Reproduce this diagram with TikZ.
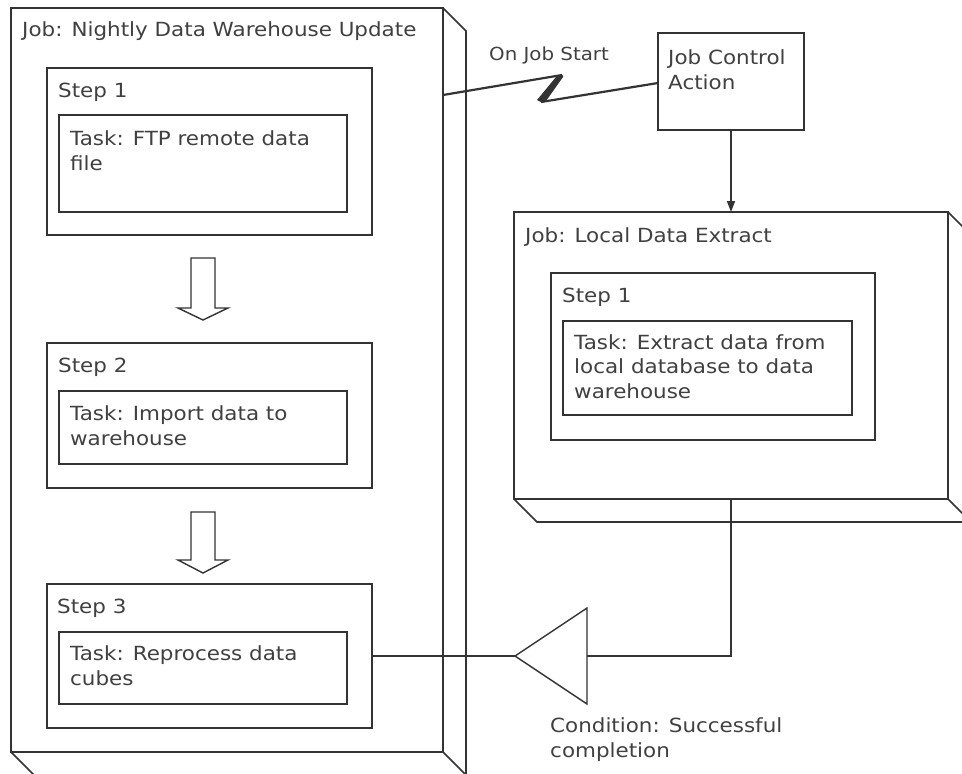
\documentclass[tikz,border=0pt]{standalone}
\usepackage{fontspec}
\newfontfamily\df[FakeStretch=1.1]{DejaVu Sans}
\usetikzlibrary{arrows.meta}
\definecolor{ln}{HTML}{333333}
\definecolor{tx}{HTML}{404040}
\begin{document}
\begin{tikzpicture}[x=1pt,y=-1pt,
  box/.style={draw=ln, line width=1.6pt, fill=white, inner sep=0pt, outer sep=0pt, anchor=north west},
  lbl/.style={text=tx, font=\df\fontsize{19.5}{24.5}\selectfont, inner sep=0pt, anchor=base west, align=left},
  smlbl/.style={lbl, font=\df\fontsize{18}{22}\selectfont},
  wire/.style={draw=ln, line width=1.6pt},
  thin/.style={draw=ln, line width=1.4pt},
  hollow/.style={draw=ln, line width=1.4pt, fill=white, line join=miter}]
\useasboundingbox (0,0) rectangle (962,774);
\clip (0,0) rectangle (962,774);

% ---- Job: Nightly Data Warehouse Update (3D box)
\node[box, minimum width=432pt, minimum height=744pt] (job) at (11,8) {};
\draw[wire, line join=miter] (job.north east) -- ++(23,23) -- ++(0,744) -- ++(-432,0) -- (job.south west);
\draw[wire] (job.south east) -- ++(23,23);
\node[lbl] (jobt) at (22,36) {Job: Nightly Data Warehouse Update};

% Step 1
\node[box, minimum width=325pt, minimum height=167pt] (s1) at (47,68) {};
\node[lbl] (s1t) at (58,97) {Step 1};
\node[box, minimum width=288pt, minimum height=97pt] (t1) at (59,115) {};
\node[lbl] (t1t) at (70,170) {Task: FTP remote data\\file};

% Step 2
\node[box, minimum width=325pt, minimum height=145pt] (s2) at (47,343) {};
\node[lbl] (s2t) at (58,372) {Step 2};
\node[box, minimum width=288pt, minimum height=73pt] (t2) at (59,391) {};
\node[lbl] (t2t) at (70,445) {Task: Import data to\\warehouse};

% Step 3
\node[box, minimum width=325pt, minimum height=144pt] (s3) at (47,584) {};
\node[lbl] (s3t) at (57,613) {Step 3};
\node[box, minimum width=288pt, minimum height=72pt] (t3) at (59,632) {};
\node[lbl] (t3t) at (70,685) {Task: Reprocess data\\cubes};

% hollow step arrows
\draw[hollow] (191,258) -- (215,258) -- (215,308) -- (228,308) -- (203,320) -- (178,308) -- (191,308) -- cycle;
\draw[hollow] (191,512) -- (215,512) -- (215,560) -- (228,560) -- (203,573) -- (178,560) -- (191,560) -- cycle;

% ---- Job Control Action
\node[box, minimum width=146pt, minimum height=97pt] (jca) at (658,33) {};
\node[lbl] (jcat) at (668,89) {Job Control\\Action};

% ---- Job: Local Data Extract (3D box)
\node[box, minimum width=434pt, minimum height=287pt] (ljob) at (514,212) {};
\draw[wire, line join=miter] (ljob.north east) -- ++(23,23) -- ++(0,287) -- ++(-434,0) -- (ljob.south west);
\draw[wire] (ljob.south east) -- ++(23,23);
\node[lbl] (ljobt) at (525,242) {Job: Local Data Extract};
\node[box, minimum width=324pt, minimum height=167pt] (ls1) at (551,273) {};
\node[lbl] (ls1t) at (562,302) {Step 1};
\node[box, minimum width=289pt, minimum height=94pt] (lt1) at (563,321) {};
\node[lbl] (lt1t) at (574,398) {Task: Extract data from\\local database to data\\warehouse};

% ---- On Job Start lightning connector
\coordinate (ls) at (job.north east |- 0,95);
\coordinate (lp1) at (562,75);
\coordinate (lp2) at (541,102);
\coordinate (le) at (jca.west |- 0,83);
\draw[draw=ln, line width=2.2pt, line join=miter] (ls) -- (lp1);
\draw[draw=ln, line width=2.2pt, line join=miter] (lp2) -- (le);
\fill[ln] (lp1) -- (563,77) -- (546,101) -- (lp2) -- (537,100) -- (556,77) -- cycle;
\draw[draw=ln, line width=3.5pt] (lp1) -- (lp2);
\node[smlbl] (ojs) at (489,60) {On Job Start};

% ---- Job control to local job
\draw[wire, -{Triangle[length=11pt, width=8pt]}] (jca.south) -- (jca.south |- ljob.north);

% ---- Condition
\coordinate (ctip) at (515,656);
\coordinate (ctop) at (587,608);
\coordinate (cbot) at (587,704);
\coordinate (cbase) at (587,656);
\draw[thin, line join=miter] (ctip) -- (ctop) -- (cbot) -- cycle;
\draw[wire] (ljob.south) |- (cbase);
\draw[wire] (s3.east) -- (ctip);
\node[lbl] (condt) at (550,757) {Condition: Successful\\completion};
\end{tikzpicture}
\end{document}
